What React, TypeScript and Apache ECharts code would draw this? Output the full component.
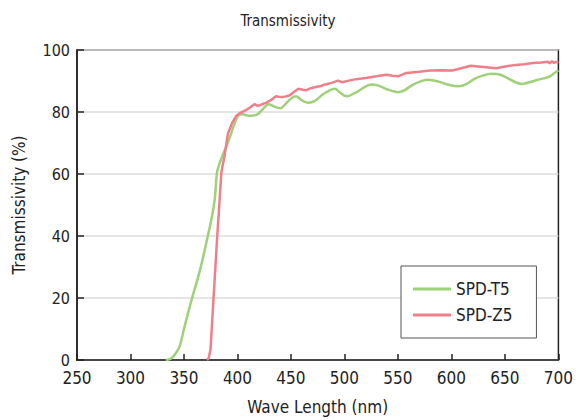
import React, { useEffect, useRef } from "react";
import * as echarts from "echarts";

const seriesNames = ["SPD-T5", "SPD-Z5"];
const xTicks = [250, 300, 350, 400, 450, 500, 550, 600, 650, 700];
const yTicks = [0, 20, 40, 60, 80, 100];

const t5Wave = [333, 338, 342, 346, 350, 357, 365, 372.6, 376, 378.8, 381, 385, 392, 397, 401, 405, 409, 413, 419, 424, 429, 434, 440, 446, 451, 455, 460, 466, 472, 480, 486, 491, 495, 500, 503, 509, 514, 520, 525, 531, 540, 550, 556, 565, 578, 588, 597, 607, 614, 622, 630, 637, 645, 652, 660, 666, 672, 680, 688, 692, 696, 700];
const t5Value = [0, 0.5, 2, 4.5, 10, 19.3, 29, 40.5, 46, 52, 60.7, 65, 71, 76, 79, 79.3, 78.9, 78.8, 79.3, 81, 82.5, 81.8, 81.2, 83, 84.6, 85.1, 83.8, 83, 83.5, 85.7, 87, 87.5, 86.5, 85.3, 85.1, 86, 87, 88.3, 88.9, 88.6, 87.3, 86.4, 87, 89, 90.4, 89.8, 88.8, 88.3, 89, 90.8, 91.8, 92.3, 92.1, 91, 89.6, 89, 89.5, 90.3, 91, 91.5, 92.5, 93.4];

const z5Wave = [371.5, 373, 374.8, 377.3, 381, 383, 385, 388, 391, 395, 399, 403, 407, 412, 416, 419, 421, 427, 432, 436, 441, 445, 449, 453, 457, 461, 464, 468, 472, 478, 482, 488, 494, 498, 505, 511, 520, 530, 539, 545, 550, 558, 570, 580, 590, 601, 610, 618, 630, 642, 650, 660, 668, 676, 684, 690, 692, 694, 696, 698, 700];
const z5Value = [0, 0.5, 3.4, 18, 39.5, 50, 60.7, 66, 72.9, 76.5, 78.8, 79.8, 80.4, 81.5, 82.5, 82, 82.2, 83, 84, 85.1, 84.8, 85, 85.4, 86.5, 87.5, 87.2, 87, 87.6, 88, 88.4, 88.9, 89.4, 90.1, 89.6, 90.2, 90.6, 91, 91.5, 92, 91.7, 91.5, 92.6, 93, 93.4, 93.5, 93.4, 94.2, 94.9, 94.5, 94.1, 94.7, 95.2, 95.4, 95.8, 96, 96.2, 95.7, 96.4, 95.8, 96.2, 95.8];

const FONT = "'Liberation Sans Narrow', 'DejaVu Sans Condensed', 'Roboto', sans-serif";
const GREEN = "#9fd07a";
const RED = "#ef7f89";

export default function App() {
  const ref = useRef<HTMLDivElement>(null);
  useEffect(() => {
    if (!ref.current) return;
    const chart = echarts.init(ref.current, undefined, { renderer: "svg" });
    const pairs = (xs: number[], ys: number[]) => xs.map((x, i) => [x, ys[i]]);
    chart.setOption({
      animation: false,
      backgroundColor: "#ffffff",
      title: {
        text: "Transmissivity",
        left: "center",
        top: 8,
        textStyle: { fontFamily: FONT, fontSize: 15, fontWeight: "normal", color: "#222" },
      },
      grid: {
        left: 77,
        right: 17,
        top: 50,
        bottom: 56,
        show: true,
        borderColor: "#222",
        borderWidth: 1.5,
        backgroundColor: "transparent",
      },
      legend: {
        data: seriesNames,
        orient: "vertical",
        left: 401,
        top: 266,
        padding: [13, 24, 13, 12],
        icon: "rect",
        itemWidth: 38,
        itemHeight: 3,
        itemGap: 6,
        borderColor: "#555",
        borderWidth: 1,
        backgroundColor: "#fff",
        textStyle: { fontFamily: FONT, fontSize: 17, color: "#222", lineHeight: 20 },
      },
      xAxis: {
        type: "value",
        min: xTicks[0],
        max: xTicks[xTicks.length - 1],
        interval: 50,
        name: "Wave Length (nm)",
        nameLocation: "middle",
        nameGap: 38,
        nameTextStyle: { fontFamily: FONT, fontSize: 17, color: "#222" },
        axisLine: { show: true, onZero: false, lineStyle: { color: "#222", width: 1.5 } },
        axisTick: { show: true, inside: true, length: 6, lineStyle: { color: "#222", width: 1.5 } },
        axisLabel: { fontFamily: FONT, fontSize: 17, color: "#222", margin: 10, lineHeight: 16 },
        splitLine: { show: false },
      },
      yAxis: {
        type: "value",
        min: yTicks[0],
        max: yTicks[yTicks.length - 1],
        interval: 20,
        name: "Transmissivity (%)",
        nameLocation: "middle",
        nameGap: 50,
        nameTextStyle: { fontFamily: FONT, fontSize: 17, color: "#222" },
        axisLine: { show: true, lineStyle: { color: "#222", width: 1.5 } },
        axisTick: { show: true, inside: true, length: 7, lineStyle: { color: "#222", width: 1.5 } },
        axisLabel: { fontFamily: FONT, fontSize: 16, color: "#222", margin: 7, lineHeight: 14 },
        splitLine: { show: true, lineStyle: { color: "#dddddd", width: 1.5 } },
      },
      series: [
        {
          name: seriesNames[0],
          type: "line",
          data: pairs(t5Wave, t5Value),
          symbol: "none",
          smooth: 0.3,
          lineStyle: { color: GREEN, width: 2.5 },
          itemStyle: { color: GREEN },
        },
        {
          name: seriesNames[1],
          type: "line",
          data: pairs(z5Wave, z5Value),
          symbol: "none",
          lineStyle: { color: RED, width: 2.5 },
          itemStyle: { color: RED },
        },
      ],
    });
    return () => chart.dispose();
  }, []);
  return <div ref={ref} style={{ position: "absolute", left: 0, top: 0, width: 576, height: 420 }} />;
}
